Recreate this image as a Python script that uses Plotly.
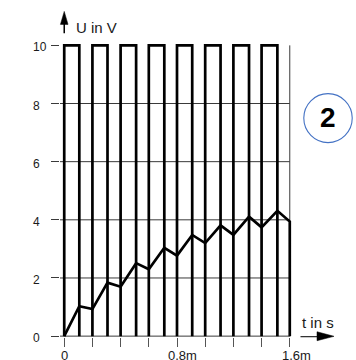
import plotly.graph_objects as go

# ---------------- data ----------------
RISE_T = [0.0, 0.2, 0.4, 0.6, 0.8, 1.0, 1.2, 1.4]           # ms, pulse rising edges
FALL_T = [0.107, 0.307, 0.51, 0.71, 0.908, 1.109, 1.311, 1.512]  # ms, pulse falling edges
U_HIGH = 10
U_LOW = 0

CAP_T = [0.0, 0.107, 0.2, 0.307, 0.4, 0.51, 0.6, 0.71, 0.8, 0.908,
         1.0, 1.109, 1.2, 1.311, 1.4, 1.512, 1.6, 1.6]
CAP_U = [0.0, 1.03, 0.93, 1.84, 1.70, 2.51, 2.30, 3.04, 2.77, 3.48,
         3.20, 3.81, 3.48, 4.11, 3.74, 4.31, 3.94, 0.0]

X_TICKS = [0.0, 0.2, 0.4, 0.6, 0.8, 1.0, 1.2, 1.4, 1.6]
X_LABEL_VALS = [0.0, 0.8, 1.6]
X_LABEL_TEXT = ["0", "0,8m", "1,6m"]
Y_TICKS = [0, 2, 4, 6, 8, 10]
Y_LABEL_TEXT = ["0", "2", "4", "6", "8", "10"]
GRID_Y = [0, 2, 4, 6, 8]
T_END = 1.6

# ---------------- layout geometry ----------------
W, H = 356, 360
PX0, PX1 = 64.0, 289.3      # pixel x of t=0 and t=1.6
PY0, PY10 = 336.0, 45.0     # pixel y of U=0 and U=10
X_RANGE = [-0.03, 1.63]
Y_RANGE = [-0.03, 10.15]
sx = (PX1 - PX0) / 1.6
sy = (PY0 - PY10) / 10.0
ML = PX0 - (0 - X_RANGE[0]) * sx
MR = W - (PX1 + (X_RANGE[1] - 1.6) * sx)
MT = PY10 - (Y_RANGE[1] - 10) * sy
MB = H - (PY0 + (0 - Y_RANGE[0]) * sy)
PW = W - ML - MR
PH = H - MT - MB


def paper_x(px):
    return (px - ML) / PW


def paper_y(py):
    return (H - MB - py) / PH


FONT = "Liberation Sans, Arial, sans-serif"
TXT = "#1a1a1a"
GRID = "#3a3a3a"

# ---------------- traces ----------------
sq_x, sq_y = [], []
for r, f in zip(RISE_T, FALL_T):
    sq_x += [r, r, f, f, None]
    sq_y += [U_LOW, U_HIGH, U_HIGH, U_LOW, None]

fig = go.Figure()
fig.add_trace(go.Scatter(x=sq_x, y=sq_y, mode="lines",
                         line=dict(color="black", width=2.7),
                         hoverinfo="skip", showlegend=False))
fig.add_trace(go.Scatter(x=CAP_T, y=CAP_U, mode="lines",
                         line=dict(color="black", width=2.7),
                         hoverinfo="skip", showlegend=False))

shapes = []
# horizontal grid lines
gx1 = (T_END - X_RANGE[0]) / (X_RANGE[1] - X_RANGE[0])
for g in GRID_Y:
    shapes.append(dict(type="line", xref="paper", yref="y", x0=0, x1=gx1,
                       y0=g, y1=g, line=dict(color=GRID, width=1), layer="below"))
# right boundary line at t = 1.6
shapes.append(dict(type="line", xref="x", yref="y", x0=T_END, x1=T_END,
                   y0=0, y1=U_HIGH, line=dict(color=GRID, width=1), layer="below"))
# y-axis arrow
shapes.append(dict(type="line", xref="paper", yref="paper",
                   x0=paper_x(64), x1=paper_x(64), y0=paper_y(22), y1=paper_y(33),
                   line=dict(color="black", width=1.5)))
shapes.append(dict(type="path", xref="paper", yref="paper",
                   path=f"M {paper_x(64)} {paper_y(11)} L {paper_x(60.2)} {paper_y(24)} "
                        f"L {paper_x(67.8)} {paper_y(24)} Z",
                   fillcolor="black", line=dict(color="black", width=0.5)))
# x-axis arrow
shapes.append(dict(type="line", xref="paper", yref="paper",
                   x0=paper_x(300), x1=paper_x(318), y0=paper_y(336.5), y1=paper_y(336.5),
                   line=dict(color="#333333", width=1.3)))
shapes.append(dict(type="path", xref="paper", yref="paper",
                   path=f"M {paper_x(333.5)} {paper_y(336.2)} L {paper_x(316.5)} {paper_y(331.6)} "
                        f"L {paper_x(316.5)} {paper_y(340.6)} Z",
                   fillcolor="black", line=dict(color="black", width=0.5)))
# circle badge
shapes.append(dict(type="circle", xref="paper", yref="paper",
                   x0=paper_x(303.3), x1=paper_x(351.7), y0=paper_y(142.3), y1=paper_y(93.3),
                   line=dict(color="#4472C4", width=1.1)))

annotations = []
for v, t in zip(Y_TICKS, Y_LABEL_TEXT):
    annotations.append(dict(xref="paper", yref="y", x=paper_x(31), y=v, yshift=-2,
                            text=t, showarrow=False, xanchor="left", yanchor="middle",
                            font=dict(family=FONT, size=12, color=TXT)))
X_LABEL_SHIFT = [0, 5.6, 6.6]
for v, t, s in zip(X_LABEL_VALS, X_LABEL_TEXT, X_LABEL_SHIFT):
    annotations.append(dict(xref="x", yref="paper", x=v, y=paper_y(355.5), xshift=s,
                            text=t, showarrow=False, xanchor="center", yanchor="middle",
                            font=dict(family=FONT, size=13, color=TXT)))
annotations.append(dict(xref="paper", yref="paper", x=paper_x(74), y=paper_y(27.5),
                        text="U in V", showarrow=False, xanchor="left", yanchor="middle",
                        font=dict(family=FONT, size=15, color=TXT)))
annotations.append(dict(xref="paper", yref="paper", x=paper_x(299.5), y=paper_y(322),
                        text="t in s", showarrow=False, xanchor="left", yanchor="middle",
                        font=dict(family=FONT, size=15, color=TXT)))
annotations.append(dict(xref="paper", yref="paper", x=paper_x(327.6), y=paper_y(117.5),
                        text="<b>2</b>", showarrow=False, xanchor="center", yanchor="middle",
                        font=dict(family=FONT, size=28, color="black")))

fig.update_layout(
    width=W, height=H,
    margin=dict(l=ML, r=MR, t=MT, b=MB, pad=0),
    paper_bgcolor="white", plot_bgcolor="white",
    showlegend=False,
    xaxis=dict(range=X_RANGE, showgrid=False, zeroline=False, showline=False,
               tickmode="array", tickvals=X_TICKS, showticklabels=False,
               ticks="outside", ticklen=9, tickwidth=1, tickcolor="#555555",
               fixedrange=True),
    yaxis=dict(range=Y_RANGE, showgrid=False, zeroline=False, showline=False,
               tickmode="array", tickvals=Y_TICKS, showticklabels=False,
               ticks="outside", ticklen=ML - 52, tickwidth=1, tickcolor=GRID,
               fixedrange=True),
    shapes=shapes,
    annotations=annotations,
)

fig.write_html(
    "out.html",
    config={"displayModeBar": False},
    post_script="document.body.style.margin='0';document.body.style.overflow='hidden';",
)
